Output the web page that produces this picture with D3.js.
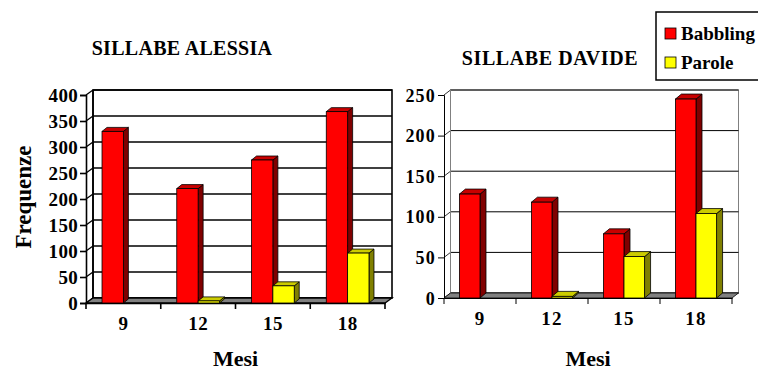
<!DOCTYPE html>
<html>
<head>
<meta charset="utf-8">
<script src="https://cdn.jsdelivr.net/npm/d3@7"></script>
<style>
  html, body { margin: 0; padding: 0; background: #fff; }
  svg { display: block; }
  text { font-family: "Liberation Serif", "Times New Roman", serif; font-weight: bold; fill: #000; }
</style>
</head>
<body>
<svg id="chart" width="758" height="371"></svg>
<script>
// Months of observation (x categories) and the two counted series
const months = ["9", "12", "15", "18"];
const series = ["Babbling", "Parole"];

// Syllable counts per month
const alessiaBabbling = [330, 220, 275, 368];
const alessiaParole   = [null, 4, 33, 96];
const davideBabbling  = [128, 118, 79, 245];
const davideParole    = [null, 2, 51, 104];

// Value-axis tick labels
const alessiaTicks = [0, 50, 100, 150, 200, 250, 300, 350, 400];
const davideTicks  = [0, 50, 100, 150, 200, 250];

const colors = {
  Babbling: { front: "#ff0000", side: "#800000", top: "#c80000" },
  Parole:   { front: "#ffff00", side: "#808000", top: "#cccc00" }
};

const svg = d3.select("#chart");

function drawPanel(cfg) {
  const g = svg.append("g");
  const { left, right, bottom, top, wall, bar } = cfg;
  const y = d3.scaleLinear().domain([0, d3.max(cfg.ticks)]).range([bottom, top]);
  const x = d3.scaleBand().domain(months).range([left, right]).paddingInner(0).paddingOuter(0);
  const xs = d3.scaleBand().domain(series).range([0, x.bandwidth()]).paddingInner(0).paddingOuter(0.75);

  // back wall
  g.append("rect")
    .attr("x", left + wall.dx).attr("y", top - wall.dy)
    .attr("width", right - left).attr("height", bottom - top)
    .attr("fill", "#fff").attr("stroke", cfg.wallStroke).attr("stroke-width", cfg.lw);

  // gridlines on the back wall and their short links to the front axis
  cfg.ticks.forEach(t => {
    const yy = y(t);
    g.append("line")
      .attr("x1", left + wall.dx).attr("x2", right + wall.dx)
      .attr("y1", yy - wall.dy).attr("y2", yy - wall.dy)
      .attr("stroke", "#000").attr("stroke-width", cfg.lw);
    g.append("line")
      .attr("x1", left).attr("y1", yy)
      .attr("x2", left + wall.dx).attr("y2", yy - wall.dy)
      .attr("stroke", "#000").attr("stroke-width", cfg.lw * 0.8);
  });

  // left side wall edge
  g.append("line")
    .attr("x1", left + wall.dx).attr("x2", left + wall.dx)
    .attr("y1", top - wall.dy).attr("y2", bottom - wall.dy)
    .attr("stroke", cfg.wallStroke).attr("stroke-width", cfg.lw);

  // floor
  g.append("polygon")
    .attr("points", [
      [left, bottom], [right, bottom],
      [right + wall.dx, bottom - wall.dy], [left + wall.dx, bottom - wall.dy]
    ].map(p => p.join(",")).join(" "))
    .attr("fill", "#808080").attr("stroke", "#000").attr("stroke-width", cfg.lw * 0.8);

  // value axis
  const yAxis = d3.axisLeft(y).tickValues(cfg.ticks).tickSize(6).tickPadding(2);
  const ya = g.append("g").attr("transform", `translate(${left},0)`).call(yAxis);
  ya.select(".domain").attr("stroke", "#000").attr("stroke-width", cfg.lw);
  ya.selectAll(".tick line").attr("stroke", "#000").attr("stroke-width", cfg.lw);
  ya.selectAll(".tick text")
    .attr("font-size", cfg.tickFont).attr("font-family", "Liberation Serif").attr("font-weight", "bold")
    .attr("letter-spacing", cfg.tickSpacing).attr("dy", "0.34em");

  // category axis
  const xa = g.append("g").attr("transform", `translate(0,${bottom})`)
    .call(d3.axisBottom(x).tickSize(0).tickPadding(14));
  xa.select(".domain").attr("stroke", "#000").attr("stroke-width", cfg.lw);
  xa.selectAll(".tick text")
    .attr("font-size", cfg.catFont).attr("font-family", "Liberation Serif").attr("font-weight", "bold")
    .attr("letter-spacing", cfg.tickSpacing);
  // tick marks at the category boundaries
  const bounds = months.map(m => x(m)).concat([right]);
  xa.selectAll(".bound").data(bounds).join("line").attr("class", "bound")
    .attr("x1", d => d).attr("x2", d => d).attr("y1", 0).attr("y2", 6)
    .attr("stroke", "#000").attr("stroke-width", cfg.lw);

  // 3D columns
  const w = xs.bandwidth();
  months.forEach((m, i) => {
    series.forEach(s => {
      const v = cfg.values[s][i];
      if (v == null) return;
      const x0 = x(m) + xs(s), yt = y(v), y0 = y(0);
      const c = colors[s];
      const bg = g.append("g");
      const poly = pts => pts.map(p => p.join(",")).join(" ");
      bg.append("polygon")
        .attr("points", poly([[x0 + w, yt], [x0 + w + bar.dx, yt - bar.dy], [x0 + w + bar.dx, y0 - bar.dy], [x0 + w, y0]]))
        .attr("fill", c.side).attr("stroke", "#000").attr("stroke-width", 0.8);
      bg.append("polygon")
        .attr("points", poly([[x0, yt], [x0 + bar.dx, yt - bar.dy], [x0 + w + bar.dx, yt - bar.dy], [x0 + w, yt]]))
        .attr("fill", c.top).attr("stroke", "#000").attr("stroke-width", 0.8);
      bg.append("rect")
        .attr("x", x0).attr("y", yt).attr("width", w).attr("height", y0 - yt)
        .attr("fill", c.front).attr("stroke", "#000").attr("stroke-width", 0.8);
    });
  });

  // title and axis title
  svg.append("text").attr("x", cfg.titleX).attr("y", cfg.titleY)
    .attr("text-anchor", "middle").attr("font-size", 20).attr("letter-spacing", cfg.titleSpacing)
    .text(cfg.title);
  svg.append("text").attr("x", (left + right) / 2).attr("y", 366)
    .attr("text-anchor", "middle").attr("font-size", 22).text("Mesi");
}

drawPanel({
  left: 86, right: 385, bottom: 303, top: 95,
  wall: { dx: 7, dy: 5 }, bar: { dx: 5, dy: 4 },
  ticks: alessiaTicks,
  values: { Babbling: alessiaBabbling, Parole: alessiaParole },
  wallStroke: "#000", lw: 1.6,
  tickFont: 19, catFont: 19, tickSpacing: 0.3,
  title: "SILLABE ALESSIA", titleX: 182, titleY: 55, titleSpacing: 0.3
});

drawPanel({
  left: 444, right: 732, bottom: 298, top: 95,
  wall: { dx: 6.5, dy: 5 }, bar: { dx: 6, dy: 5 },
  ticks: davideTicks,
  values: { Babbling: davideBabbling, Parole: davideParole },
  wallStroke: "#808080", lw: 1,
  tickFont: 18, catFont: 19, tickSpacing: 1.2,
  title: "SILLABE DAVIDE", titleX: 550, titleY: 65, titleSpacing: 0.6
});

// value-axis title
svg.append("text")
  .attr("transform", "translate(31,197) rotate(-90)")
  .attr("text-anchor", "middle").attr("font-size", 23)
  .text("Frequenze");

// legend
const legend = svg.append("g");
legend.append("rect").attr("x", 656).attr("y", 12).attr("width", 120).attr("height", 68)
  .attr("fill", "#fff").attr("stroke", "#000").attr("stroke-width", 1.5);
series.forEach((s, i) => {
  legend.append("rect").attr("x", 665).attr("y", 28 + i * 29).attr("width", 11).attr("height", 11)
    .attr("fill", colors[s].front).attr("stroke", "#000").attr("stroke-width", 0.8);
  legend.append("text").attr("x", 681).attr("y", 40 + i * 29)
    .attr("font-size", 19).text(s);
});
</script>
</body>
</html>
